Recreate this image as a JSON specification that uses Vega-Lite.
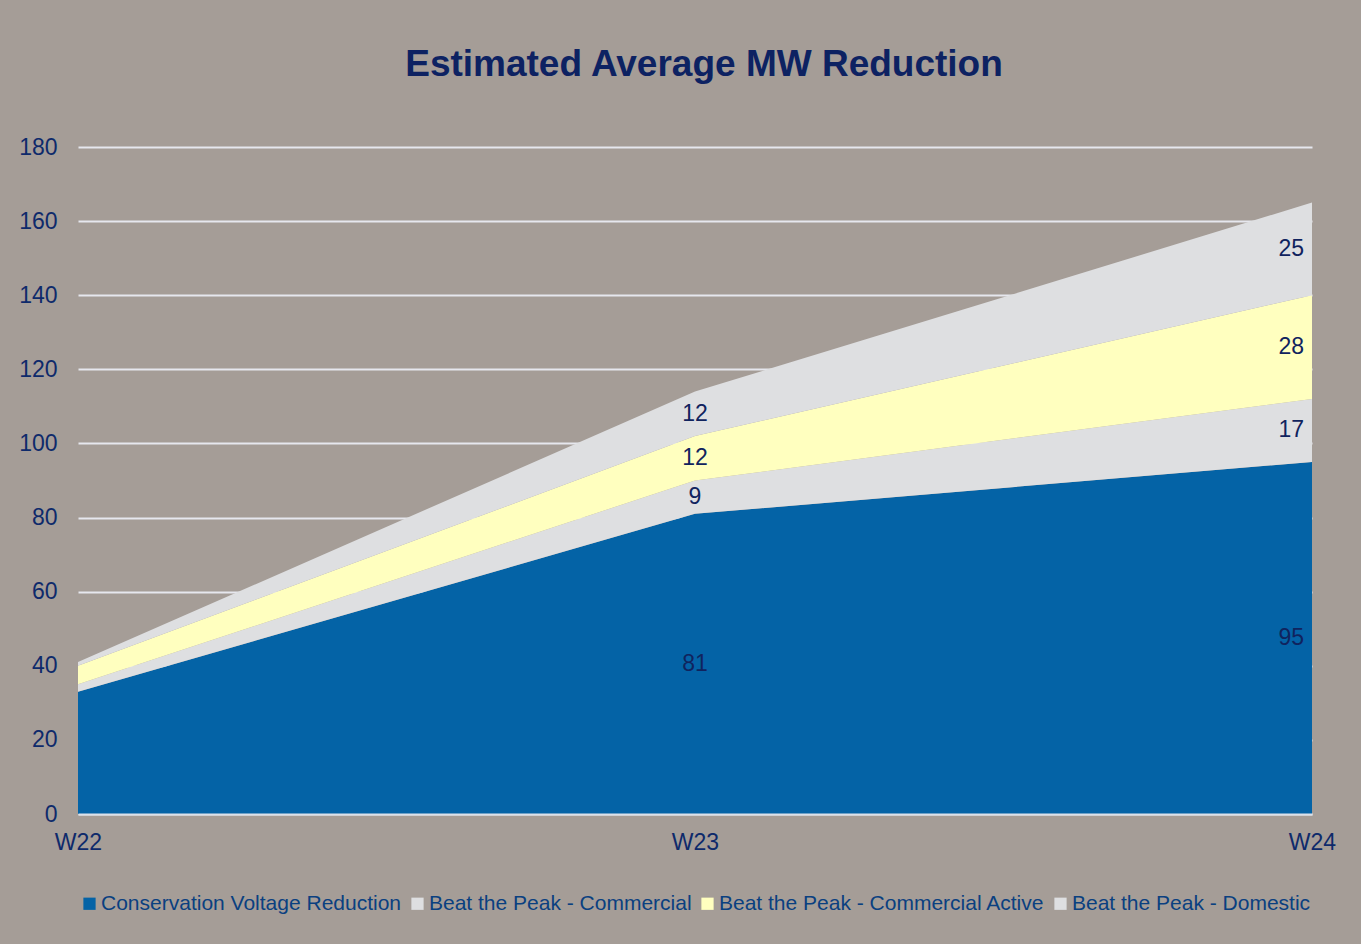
{
  "$schema": "https://vega.github.io/schema/vega-lite/v6.json",
  "width": 1234,
  "height": 667,
  "autosize": {"type": "none"},
  "padding": {"left": 78, "top": 147, "right": 49, "bottom": 130},
  "background": "#A59D97",
  "title": {
    "text": "Estimated Average MW Reduction",
    "font": "Liberation Sans",
    "fontSize": 37,
    "fontWeight": "bold",
    "color": "#0D2262",
    "anchor": "middle",
    "offset": 52,
    "dx": 9
  },
  "config": {
    "view": {"stroke": null},
    "font": "Liberation Sans"
  },
  "data": {
    "values": [
      {"week": "W22", "series": "Conservation Voltage Reduction", "value": 33, "order": 1},
      {"week": "W22", "series": "Beat the Peak - Commercial", "value": 2, "order": 2},
      {"week": "W22", "series": "Beat the Peak - Commercial Active", "value": 5, "order": 3},
      {"week": "W22", "series": "Beat the Peak - Domestic", "value": 1, "order": 4},
      {"week": "W23", "series": "Conservation Voltage Reduction", "value": 81, "order": 1},
      {"week": "W23", "series": "Beat the Peak - Commercial", "value": 9, "order": 2},
      {"week": "W23", "series": "Beat the Peak - Commercial Active", "value": 12, "order": 3},
      {"week": "W23", "series": "Beat the Peak - Domestic", "value": 12, "order": 4},
      {"week": "W24", "series": "Conservation Voltage Reduction", "value": 95, "order": 1},
      {"week": "W24", "series": "Beat the Peak - Commercial", "value": 17, "order": 2},
      {"week": "W24", "series": "Beat the Peak - Commercial Active", "value": 28, "order": 3},
      {"week": "W24", "series": "Beat the Peak - Domestic", "value": 25, "order": 4}
    ]
  },
  "encoding": {
    "x": {
      "field": "week",
      "type": "ordinal",
      "scale": {"type": "point", "padding": 0},
      "axis": {
        "title": null,
        "labelAngle": 0,
        "labelFontSize": 23,
        "labelColor": "#0E2A6B",
        "labelPadding": 17,
        "ticks": false,
        "grid": false,
        "domain": true,
        "domainColor": "#DCE1EA",
        "domainWidth": 2,
        "zindex": 1
      }
    }
  },
  "layer": [
    {
      "mark": {"type": "area", "opacity": 1},
      "encoding": {
        "y": {
          "field": "value",
          "type": "quantitative",
          "stack": "zero",
          "scale": {"domain": [0, 180], "nice": false},
          "axis": {
            "title": null,
            "values": [0, 20, 40, 60, 80, 100, 120, 140, 160, 180],
            "labelFontSize": 23,
            "labelColor": "#0E2A6B",
            "labelPadding": 21,
            "ticks": false,
            "domain": false,
            "grid": true,
            "gridColor": "#E6E7EE",
            "gridWidth": 2
          }
        },
        "color": {
          "field": "series",
          "type": "nominal",
          "scale": {
            "domain": ["Conservation Voltage Reduction", "Beat the Peak - Commercial", "Beat the Peak - Commercial Active", "Beat the Peak - Domestic"],
            "range": ["#0463A6", "#DEDFE1", "#FFFFBF", "#DEDFE1"]
          },
          "legend": {
            "title": null,
            "orient": "none",
            "direction": "horizontal",
            "legendX": 1,
            "legendY": 746,
            "symbolType": "square",
            "symbolSize": 150,
            "symbolStrokeWidth": 0,
            "labelFontSize": 21,
            "labelColor": "#0A4080",
            "labelOffset": 1,
            "columnPadding": 5,
            "labelLimit": 500
          }
        },
        "order": {"field": "order", "type": "quantitative"}
      }
    },
    {
      "transform": [
        {"stack": "value", "groupby": ["week"], "sort": [{"field": "order"}], "as": ["v0", "v1"]},
        {"calculate": "(datum.v0 + datum.v1) / 2", "as": "mid"},
        {"filter": "datum.week === 'W23'"}
      ],
      "mark": {"type": "text", "fontSize": 23, "color": "#10235E", "align": "center", "baseline": "middle"},
      "encoding": {
        "y": {"field": "mid", "type": "quantitative"},
        "text": {"field": "value", "type": "quantitative"}
      }
    },
    {
      "transform": [
        {"stack": "value", "groupby": ["week"], "sort": [{"field": "order"}], "as": ["v0", "v1"]},
        {"calculate": "(datum.v0 + datum.v1) / 2", "as": "mid"},
        {"filter": "datum.week === 'W24'"}
      ],
      "mark": {"type": "text", "fontSize": 23, "color": "#10235E", "align": "right", "baseline": "middle", "dx": -8},
      "encoding": {
        "y": {"field": "mid", "type": "quantitative"},
        "text": {"field": "value", "type": "quantitative"}
      }
    }
  ]
}
